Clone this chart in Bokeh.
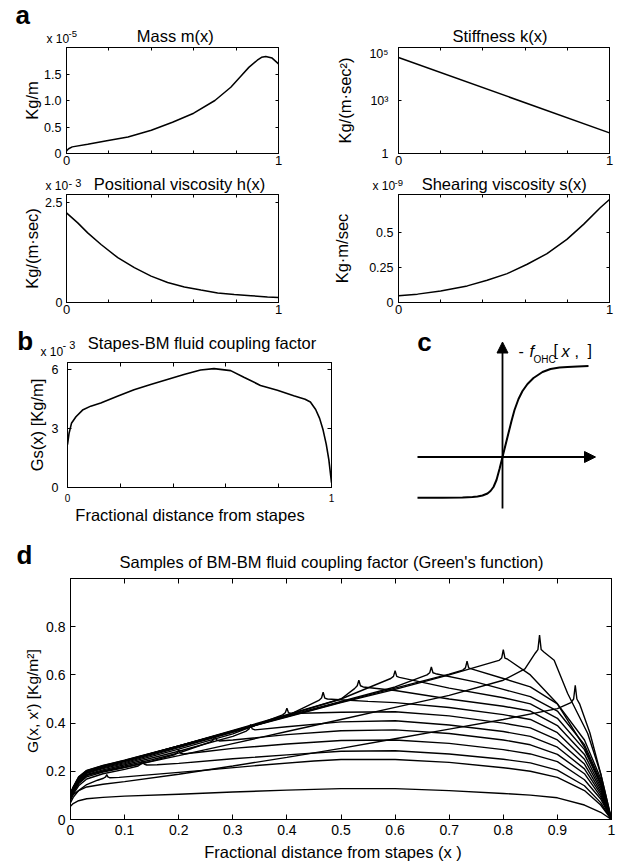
import math
from bokeh.plotting import figure
from bokeh.models import (Range1d, FixedTicker, LinearAxis, LogAxis, Label,
                          Arrow, NormalHead)
from bokeh.layouts import row, column
from bokeh.embed import file_html
from bokeh.resources import INLINE

FONT = "Liberation Sans"

# ---------------- data ----------------
# (a) Mass m(x)  [x 1e-5 Kg/m]
mass_x = [0, 0.01, 0.027, 0.1, 0.19, 0.29, 0.4, 0.5, 0.6, 0.7, 0.775, 0.82, 0.86, 0.9, 0.92, 0.94, 0.97, 1.0]
mass_y = [0.05, 0.09, 0.125, 0.175, 0.24, 0.31, 0.44, 0.59, 0.76, 1.0, 1.25, 1.45, 1.625, 1.76, 1.815, 1.83, 1.80, 1.69]
# (a) Stiffness k(x)  [Kg/(m sec^2)]
stiff_x = [0, 1]
stiff_y = [4.2e4, 60]
# (a) Positional viscosity h(x)  [x 1e-3]
posv_x = [0, 0.053, 0.10, 0.163, 0.242, 0.32, 0.399, 0.477, 0.556, 0.634, 0.713, 0.791, 0.87, 0.948, 1.0]
posv_y = [2.24, 1.99, 1.74, 1.45, 1.12, 0.87, 0.66, 0.50, 0.39, 0.31, 0.24, 0.20, 0.17, 0.14, 0.125]
# (a) Shearing viscosity s(x)  [x 1e-9]
shear_x = [0, 0.09, 0.2, 0.326, 0.42, 0.515, 0.61, 0.704, 0.798, 0.877, 0.956, 1.0]
shear_y = [0.048, 0.06, 0.083, 0.119, 0.16, 0.207, 0.274, 0.35, 0.452, 0.56, 0.679, 0.738]
# (b) Stapes-BM coupling Gs(x)  [x 1e-3]
gs_x = [0, 0.006, 0.015, 0.032, 0.057, 0.088, 0.126, 0.189, 0.252, 0.315, 0.378, 0.441, 0.504, 0.555,
        0.618, 0.668, 0.731, 0.795, 0.857, 0.9, 0.92, 0.94, 0.955, 0.968, 0.98, 0.99, 1.0]
gs_y = [2.17, 2.75, 3.25, 3.58, 3.92, 4.12, 4.28, 4.62, 4.95, 5.22, 5.47, 5.72, 5.95, 6.02,
        5.92, 5.58, 5.17, 4.92, 4.65, 4.47, 4.33, 3.95, 3.5, 2.92, 2.2, 1.4, 0.25]
# (c) OHC sigmoid (schematic)
c_sig_x = [-85, -60, -40, -30, -25, -20, -15, -12, -9, -6, -3, 0, 3, 6, 9, 12, 16, 20, 25, 31, 40, 48, 57, 65, 75, 86]
c_sig_y = [-40.7, -40.7, -40.5, -40, -39.5, -38.5, -36.5, -34, -30, -23, -12, 0, 12, 24, 36, 47, 58, 66, 73, 79, 85, 88, 89.5, 90, 90.6, 91]
c_haxis_x = [-85, 93]
c_vaxis_y = [-51.5, 115]
# (d) Green's function samples G(x, x')
g00_x = [0, 0.005, 0.015, 0.03, 0.06, 0.1, 0.2, 0.3, 0.4, 0.5, 0.6, 0.7, 0.8, 0.85, 0.9, 0.95, 0.98, 1.0]
g00_y = [0.055, 0.066, 0.078, 0.086, 0.092, 0.097, 0.105, 0.114, 0.122, 0.128, 0.128, 0.12, 0.108, 0.101, 0.09, 0.06, 0.03, 0.0]
g01_x = [0, 0.005, 0.015, 0.03, 0.05, 0.061, 0.065, 0.067, 0.069, 0.073, 0.09, 0.15, 0.25, 0.35, 0.45, 0.5, 0.6, 0.7, 0.8, 0.85, 0.9, 0.95, 0.98, 1.0]
g01_y = [0.07, 0.092, 0.12, 0.145, 0.163, 0.171, 0.177, 0.187, 0.177, 0.173, 0.175, 0.186, 0.205, 0.225, 0.243, 0.249, 0.249, 0.237, 0.215, 0.2, 0.175, 0.12, 0.06, 0.0]
g02_x = [0, .005, .015, .03, .06, .1, .125, .13, .133, .136, .141, .16, .2, .3, .4, .5, .6, .7, .8, .85, .9, .95, .98, 1]
g02_y = [.08, .105, .14, .168, .19, .208, .222, .23, .245, .23, .226, .227, .233, .252, .268, .283, .285, .272, .25, .235, .205, .14, .07, 0]
g03_x = [0, .005, .015, .03, .06, .1, .15, .192, .197, .2, .203, .208, .25, .3, .4, .5, .6, .7, .8, .85, .9, .95, .98, 1]
g03_y = [.085, .11, .148, .177, .197, .216, .242, .268, .276, .29, .276, .272, .282, .295, .313, .328, .33, .316, .29, .272, .24, .165, .085, 0]
g04_x = [0, .005, .015, .03, .06, .1, .15, .2, .259, .264, .267, .27, .275, .3, .4, .5, .6, .7, .8, .85, .9, .95, .98, 1]
g04_y = [.09, .115, .153, .182, .202, .222, .248, .276, .322, .33, .346, .33, .326, .33, .352, .368, .372, .357, .33, .31, .27, .19, .095, 0]
g05_x = [0, .005, .015, .03, .06, .1, .2, .3, .325, .33, .333, .336, .341, .4, .5, .6, .7, .8, .85, .9, .95, .98, 1]
g05_y = [.095, .12, .158, .187, .206, .227, .283, .345, .367, .376, .394, .376, .372, .385, .405, .41, .392, .365, .345, .3, .21, .105, 0]
g06_x = [0, .005, .015, .03, .06, .1, .2, .3, .392, .397, .4, .403, .408, .5, .6, .7, .8, .85, .9, .95, .98, 1]
g06_y = [.1, .124, .163, .192, .211, .232, .292, .355, .434, .443, .462, .443, .44, .445, .447, .43, .4, .38, .33, .23, .115, 0]
g07_x = [0, .005, .015, .03, .06, .1, .2, .3, .4, .459, .464, .467, .47, .475, .55, .6, .7, .8, .85, .9, .95, .98, 1]
g07_y = [.1, .126, .166, .195, .214, .236, .298, .362, .43, .494, .504, .528, .504, .5, .49, .485, .465, .435, .415, .36, .25, .125, 0]
g08_x = [0, .005, .015, .03, .06, .1, .2, .3, .4, .5, .525, .53, .533, .536, .541, .6, .7, .8, .85, .9, .95, .98, 1]
g08_y = [.105, .13, .17, .199, .218, .24, .302, .366, .432, .5, .543, .555, .578, .555, .55, .535, .5, .47, .45, .39, .27, .135, 0]
g09_x = [0, .005, .015, .03, .06, .1, .2, .3, .4, .5, .592, .597, .6, .603, .608, .7, .8, .85, .9, .95, .98, 1]
g09_y = [.105, .13, .171, .2, .22, .242, .305, .37, .435, .5, .585, .594, .617, .594, .59, .545, .505, .48, .42, .29, .145, 0]
g10_x = [0, .005, .015, .03, .06, .1, .2, .3, .4, .5, .6, .659, .664, .667, .67, .675, .75, .8, .85, .9, .95, .98, 1]
g10_y = [.105, .13, .172, .201, .221, .243, .305, .368, .43, .49, .55, .6, .609, .633, .609, .605, .57, .54, .51, .45, .31, .16, 0]
g11_x = [0, .005, .015, .03, .06, .1, .2, .3, .4, .5, .6, .7, .725, .73, .733, .736, .741, .8, .85, .9, .95, .98, 1]
g11_y = [.11, .134, .175, .203, .223, .245, .305, .366, .427, .487, .545, .603, .62, .629, .657, .629, .625, .585, .55, .48, .33, .17, 0]
g12_x = [0, .005, .015, .03, .06, .1, .2, .3, .4, .5, .6, .7, .792, .797, .8, .803, .808, .85, .9, .95, .98, 1]
g12_y = [.11, .135, .177, .204, .224, .246, .305, .365, .425, .485, .54, .6, .66, .67, .705, .67, .665, .6, .48, .3, .15, 0]
g13_x = [0, .005, .015, .03, .06, .1, .2, .3, .4, .5, .6, .7, .8, .84, .859, .864, .867, .87, .875, .894, .919, .956, .98, 1]
g13_y = [.11, .13, .162, .185, .2, .217, .265, .315, .365, .415, .465, .515, .578, .625, .69, .705, .765, .705, .695, .661, .523, .357, .19, 0]
g14_x = [0, .005, .015, .03, .06, .1, .2, .3, .4, .5, .6, .7, .8, .9, .925, .93, .933, .936, .941, .96, .98, 1]
g14_y = [.09, .103, .12, .135, .146, .157, .188, .222, .258, .295, .335, .375, .415, .46, .485, .5, .557, .5, .48, .36, .19, 0]

green_curves = [(g00_x, g00_y), (g01_x, g01_y), (g02_x, g02_y), (g03_x, g03_y), (g04_x, g04_y),
                (g05_x, g05_y), (g06_x, g06_y), (g07_x, g07_y), (g08_x, g08_y), (g09_x, g09_y),
                (g10_x, g10_y), (g11_x, g11_y), (g12_x, g12_y), (g13_x, g13_y), (g14_x, g14_y)]

# tick values / labels
a_xticks = [0, 1]
a_xminor = [0.2, 0.4, 0.6, 0.8]
mass_yticks = [0, 0.5, 1.0, 1.5]
stiff_yticks = [10, 1000, 100000]
stiff_ylabels = {10: "1", 1000: "10\u00b3", 100000: "10\u2075"}
posv_yticks = [0, 2.5]
shear_yticks = [0, 0.25, 0.5]
b_yticks = [0, 3, 6]
d_xticks = [0, 0.1, 0.2, 0.3, 0.4, 0.5, 0.6, 0.7, 0.8, 0.9, 1]
d_yticks = [0, 0.2, 0.4, 0.6, 0.8]

TITLE = 16.5
LETTER = 26
BASE_SHIFT = 0.36   # rendered baseline sits this many em below the anchor


# ---------------- helpers ----------------
def make_fig(w, h, borders, xr, yr, ytype="linear"):
    l, t, r, b = borders
    p = figure(width=w, height=h, x_range=Range1d(*xr), y_range=Range1d(*yr),
               y_axis_type=ytype, output_backend="svg", toolbar_location=None, title=None,
               min_border_left=l, min_border_top=t, min_border_right=r, min_border_bottom=b)
    p.outline_line_color = "black"
    p.outline_line_width = 1
    p.xgrid.visible = False
    p.ygrid.visible = False
    return p


def style_axis(ax, ticks, minor=None, overrides=None, size=12.5, standoff=3, tick=3, labels=True):
    ax.ticker = FixedTicker(ticks=ticks, minor_ticks=minor or [])
    ax.major_tick_in = tick
    ax.major_tick_out = 0
    ax.minor_tick_in = tick if minor else 0
    ax.minor_tick_out = 0
    if not minor:
        ax.minor_tick_line_color = None
    ax.axis_line_color = "black"
    ax.major_tick_line_color = "black"
    ax.major_label_text_font = FONT
    ax.major_label_text_color = "black"
    if overrides:
        ax.major_label_overrides = overrides
    if labels:
        ax.major_label_text_font_size = f"{size}px"
        ax.major_label_standoff = standoff
    else:
        ax.major_label_text_font_size = "0px"
        ax.major_label_text_color = None
        ax.major_label_standoff = 0


def ylabel(ax, text, standoff, size=16.5):
    ax.axis_label = text
    ax.axis_label_text_font = FONT
    ax.axis_label_text_font_size = f"{size}px"
    ax.axis_label_text_font_style = "normal"
    ax.axis_label_text_color = "black"
    ax.axis_label_standoff = standoff


def mirror(p, xticks, yticks, xminor=None, tick=3, log=False):
    top = LinearAxis()
    style_axis(top, xticks, xminor, tick=tick, labels=False)
    p.add_layout(top, "above")
    right = LogAxis() if log else LinearAxis()
    style_axis(right, yticks, tick=tick, labels=False)
    p.add_layout(right, "right")


def strip(x0, x1, y0, y1):
    """text-only canvas covering page pixels x0..x1, y0..y1 (y downwards)"""
    s = figure(width=x1 - x0, height=y1 - y0, x_range=Range1d(x0, x1), y_range=Range1d(y1, y0),
               output_backend="svg", toolbar_location=None, title=None,
               x_axis_location=None, y_axis_location=None,
               min_border_left=0, min_border_right=0, min_border_top=0, min_border_bottom=0)
    s.outline_line_color = None
    s.xgrid.visible = False
    s.ygrid.visible = False
    return s


def txt(p, x, base, text, size, align="left", style="normal", y_down=True):
    """text whose baseline lies at page-pixel row `base`"""
    anchor = base - BASE_SHIFT * size
    y = anchor if y_down else -anchor
    p.add_layout(Label(x=x, y=y, text=text, text_font=FONT, text_font_size=f"{size}px",
                       text_align=align, text_baseline="alphabetic", text_font_style=style,
                       text_color="black"))


# ---------------- strip 1 : panel a titles ----------------
s1 = strip(0, 621, 0, 46)
txt(s1, 15, 24, "a", LETTER, style="bold")
txt(s1, 46, 43.3, "x 10", 12)
txt(s1, 68, 36.5, "-5", 9.5)
txt(s1, 177, 41.5, "Mass  m(x)", TITLE, align="center")
txt(s1, 504, 41.5, "Stiffness   k(x)", TITLE, align="center")

# ---------------- (a) mass ----------------
p_mass = make_fig(306, 128, (66, 1, 28, 21), (0, 1), (0, 2.0))
p_mass.line(mass_x, mass_y, line_color="black", line_width=1.5)
style_axis(p_mass.xaxis[0], a_xticks, a_xminor, size=13, standoff=2)
style_axis(p_mass.yaxis[0], mass_yticks, overrides={0: "0", 0.5: "0.5", 1.0: "1.0", 1.5: "1.5"}, standoff=5)
ylabel(p_mass.yaxis[0], "Kg/m", 0)
mirror(p_mass, a_xticks, mass_yticks, a_xminor)

# ---------------- (a) stiffness ----------------
p_stiff = make_fig(315, 128, (92, 1, 12, 21), (0, 1), (10, 1e5), ytype="log")
p_stiff.line(stiff_x, stiff_y, line_color="black", line_width=1.5)
style_axis(p_stiff.xaxis[0], a_xticks, a_xminor, size=13, standoff=2)
style_axis(p_stiff.yaxis[0], stiff_yticks, overrides=stiff_ylabels, standoff=10)
ylabel(p_stiff.yaxis[0], "Kg/(m\u00b7sec\u00b2)", 12)
mirror(p_stiff, a_xticks, stiff_yticks, a_xminor, log=True)

# ---------------- strip 2 ----------------
s2 = strip(0, 621, 174, 193)
txt(s2, 45, 190, "x 10", 12)
txt(s2, 68, 186.5, "- 3", 11)
txt(s2, 179, 189, "Positional viscosity h(x)", TITLE, align="center")
txt(s2, 372, 190, "x 10", 12)
txt(s2, 394, 185.5, "-9", 9.5)
txt(s2, 506, 189, "Shearing viscosity  s(x)", TITLE, align="center")

# ---------------- (a) positional viscosity ----------------
p_posv = make_fig(306, 133, (66, 1, 28, 24), (0, 1), (0, 2.7))
p_posv.line(posv_x, posv_y, line_color="black", line_width=1.5)
style_axis(p_posv.xaxis[0], a_xticks, a_xminor, size=13, standoff=2)
style_axis(p_posv.yaxis[0], posv_yticks, overrides={0: "0", 2.5: "2.5"}, standoff=4)
ylabel(p_posv.yaxis[0], "Kg/(m\u00b7sec)", 1)
mirror(p_posv, a_xticks, posv_yticks, a_xminor)

# ---------------- (a) shearing viscosity ----------------
p_shear = make_fig(315, 133, (92, 1, 12, 24), (0, 1), (0, 0.774))
p_shear.line(shear_x, shear_y, line_color="black", line_width=1.5)
style_axis(p_shear.xaxis[0], a_xticks, a_xminor, size=13, standoff=2)
style_axis(p_shear.yaxis[0], shear_yticks, overrides={0: "0", 0.25: "0.25", 0.5: "0.5"}, standoff=5)
ylabel(p_shear.yaxis[0], "Kg\u00b7m/sec", 15)
mirror(p_shear, a_xticks, shear_yticks, a_xminor)

# ---------------- strip 3 : panel b title ----------------
s3 = strip(0, 337, 326, 360)
txt(s3, 16.7, 350, "b", LETTER, style="bold")
txt(s3, 40, 356, "x 10", 12)
txt(s3, 62, 348, "- 3", 11)
txt(s3, 201.5, 348, "Stapes-BM fluid coupling factor", TITLE, align="center")

# ---------------- (b) ----------------
p_b = make_fig(337, 145, (67, 2, 6, 18), (0, 1), (0, 6.33))
p_b.line(gs_x, gs_y, line_color="black", line_width=1.6)
style_axis(p_b.xaxis[0], a_xticks, a_xminor, size=10, standoff=6, tick=4)
style_axis(p_b.yaxis[0], b_yticks, size=12.5, standoff=9, tick=4)
ylabel(p_b.yaxis[0], "Gs(x) [Kg/m]", 3)
mirror(p_b, a_xticks, b_yticks, a_xminor, tick=4)

s4 = strip(0, 337, 505, 530)
txt(s4, 189.5, 520.5, "Fractional distance from stapes", TITLE, align="center")

# ---------------- (c) ----------------
p_c = figure(width=284, height=204, x_range=Range1d(-165, 119), y_range=Range1d(-73.5, 130.5),
             output_backend="svg", toolbar_location=None, title=None,
             x_axis_location=None, y_axis_location=None,
             min_border_left=0, min_border_right=0, min_border_top=0, min_border_bottom=0)
p_c.xgrid.visible = False
p_c.ygrid.visible = False
p_c.outline_line_color = None
p_c.add_layout(Arrow(end=NormalHead(size=11, fill_color="black", line_color="black"),
                     x_start=c_haxis_x[0], y_start=0, x_end=c_haxis_x[1], y_end=0,
                     line_width=1.8, line_color="black"))
p_c.add_layout(Arrow(end=NormalHead(size=11, fill_color="black", line_color="black"),
                     x_start=0, y_start=c_vaxis_y[0], x_end=0, y_end=c_vaxis_y[1],
                     line_width=1.8, line_color="black"))
p_c.line(c_sig_x, c_sig_y, line_color="black", line_width=2)

C_OX, C_OY = 502, 456.5   # page position of the schematic's origin


def cput(rx, ry, text, size, style="normal"):
    # y measured upward from the origin: flip the page row
    txt(p_c, rx - C_OX, ry - C_OY, text, size, style=style, y_down=False)


cput(416.7, 350.5, "c", LETTER, style="bold")
cput(518, 356, "-", 16)
cput(529, 356, "f", 16.5, style="italic")
cput(533, 363, "OHC", 10)
cput(553, 356, "[", 16)
cput(561, 356, "x", 16.5, style="italic")
cput(574, 356, ",", 16)
cput(587, 356, "]", 16)

# ---------------- strip 5 : panel d title ----------------
s5 = strip(0, 621, 530, 577)
txt(s5, 16, 564, "d", LETTER, style="bold")
txt(s5, 331, 567, "Samples of BM-BM fluid coupling factor (Green's function)", TITLE, align="center")

# ---------------- (d) ----------------
p_d = make_fig(621, 264, (70, 1, 10, 22), (0, 1), (0, 1))
for gx, gy in green_curves:
    p_d.line(gx, gy, line_color="black", line_width=1.4)
style_axis(p_d.xaxis[0], d_xticks, overrides={0: "0", 1: "1"}, size=14, standoff=5, tick=5)
style_axis(p_d.yaxis[0], d_yticks, overrides={0: "0"}, size=14, standoff=5, tick=5)
ylabel(p_d.yaxis[0], "G(x, x')  [Kg/m\u00b2]", 2, size=15.5)
mirror(p_d, d_xticks, d_yticks, tick=5)

s6 = strip(0, 621, 841, 867)
txt(s6, 332.5, 857, "Fractional distance from stapes (x )", TITLE, align="center")

layout = column(row(s1),
                row(p_mass, p_stiff, spacing=0),
                row(s2),
                row(p_posv, p_shear, spacing=0),
                row(column(row(s3), row(p_b), row(s4), spacing=0), p_c, spacing=0),
                row(s5),
                row(p_d),
                row(s6),
                spacing=0)

open("out.html", "w").write(file_html(layout, INLINE))
